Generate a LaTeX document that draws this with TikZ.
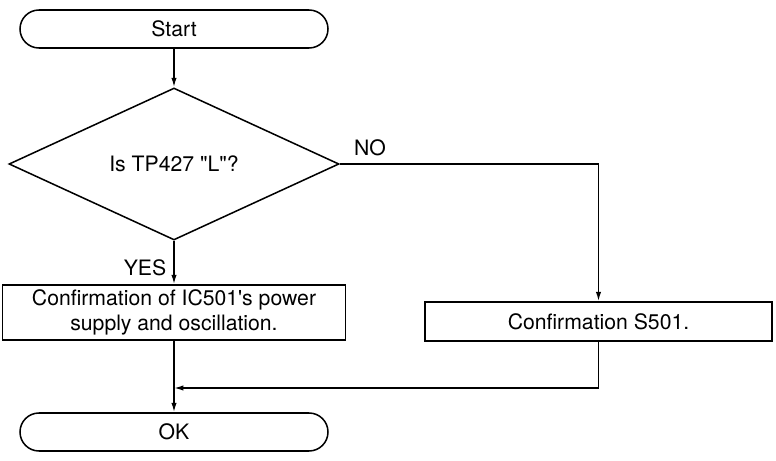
\documentclass[tikz,border=0pt]{standalone}
\usepackage{fontspec}
\setmainfont{TeX Gyre Heros}
\usetikzlibrary{shapes.geometric,shapes.misc,arrows.meta}

\begin{document}
\begin{tikzpicture}[x=.03cm,y=-.03cm,>={Latex[length=2.8mm,width=1.6mm]},line width=1.3pt,
  font=\fontsize{18.1}{21.3}\selectfont,
  term/.style={draw,rounded rectangle,minimum width=9.24cm,minimum height=1.14cm,inner sep=0pt},
  test/.style={draw,diamond,aspect=2.17,minimum width=9.9cm,minimum height=4.56cm,inner sep=0pt},
  proc/.style={draw,rectangle,inner sep=0pt,align=center}]
  \useasboundingbox (0,0) rectangle (776,461);
  \node[term] (start) at (174,29) {Start};
  \node[test] (tp) at (174,164) {Is TP427 \textquotedbl L\textquotedbl?};
  \node[proc,minimum width=10.3cm,minimum height=1.65cm] (ic) at (174,312.5) {Confirmation of IC501\textquotesingle s power\\supply and oscillation.};
  \node[proc,minimum width=10.41cm,minimum height=1.17cm] (sw) at (598.5,321.5) {Confirmation S501.};
  \node[term] (ok) at (174,432) {OK};
  \coordinate (join) at (174,388);
  \node at (145,268) {YES};
  \node at (370,148) {NO};
  \draw[->] (start) -- (tp);
  \draw[->] (tp) -- (ic);
  \draw[->] (tp.east) -| (sw.north);
  \draw[->] (sw.south) |- (join);
  \draw[->] (ic) -- (ok);
\end{tikzpicture}
\end{document}
